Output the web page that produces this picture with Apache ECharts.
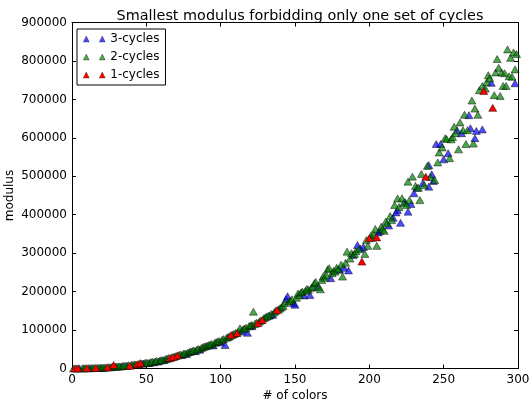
<!DOCTYPE html>
<html>
<head>
<meta charset="utf-8">
<script src="https://cdn.jsdelivr.net/npm/echarts@6/dist/echarts.min.js"></script>
<style>
html,body{margin:0;padding:0;background:#fff;}
#chart{width:531px;height:400px;}
</style>
</head>
<body>
<div id="chart"></div>
<script>
const titleText = "Smallest modulus forbidding only one set of cycles";
const xName = "# of colors";
const yName = "modulus";
const seriesNames = ["3-cycles", "2-cycles", "1-cycles"];
const xTicks = [0, 50, 100, 150, 200, 250, 300];
const yTicks = [0, 100000, 200000, 300000, 400000, 500000, 600000, 700000, 800000, 900000];

// [# of colors, modulus]
const threeCycles = [
[5,400],[12,900],[19,1800],[33,5500],[37,7000],[48,13000],[52,14500],[55,16000],[58,18000],[62,22000],
[74,35000],[77,38000],[83,45000],[86,49000],[95,60000],[100,68000],[103,61000],[114,97000],[118,93000],[121,110000],
[133,138000],[135,140000],[144,180000],[145,188000],[149,170000],[150,166000],[156,190000],[160,191000],[165,214000],[174,235000],
[180,257000],[183,262000],[186,255000],[189,295000],[192,321000],[194,312000],[196,316000],[206,354000],[207,358000],[213,372000],
[216,392000],[218,406000],[219,412000],[221,379000],[224,433000],[226,408000],[228,428000],[230,456000],[232,470000],[236,482000],
[240,473000],[240,529000],[242,505000],[243,488000],[245,584000],[248,584000],[250,544000],[253,560000],[259,620000],[262,612000],
[267,659000],[268,625000],[271,599000],[272,618000],[276,622000],[282,743000],[298,742000]
];
const twoCycles = [
[1,200],[3,300],[7,600],[8,500],[9,700],[11,900],[13,1100],[14,1300],[15,1200],[17,1800],
[18,1500],[20,2300],[21,2100],[22,2800],[23,2600],[25,3500],[26,3300],[27,4200],[29,4800],[30,4600],
[31,5800],[32,5200],[34,6600],[35,7200],[36,6800],[38,8400],[40,9500],[41,9000],[42,10800],[43,10200],
[45,12000],[47,12800],[49,14200],[50,15000],[51,14300],[53,16800],[54,17500],[56,18600],[57,19500],[59,20500],
[60,21800],[61,21500],[63,24800],[64,25500],[65,27000],[67,29000],[69,31000],[70,32500],[72,35000],[73,36500],
[75,38500],[76,39000],[78,41500],[79,43000],[80,44500],[81,45500],[82,47000],[84,49500],[85,51000],[87,53500],
[88,55500],[89,57000],[90,58000],[91,59500],[92,61000],[93,62500],[94,64000],[96,67000],[97,68500],[98,70000],
[99,71500],[101,75000],[102,76500],[104,80000],[105,82000],[106,83500],[108,88000],[109,90000],[110,92500],[112,96000],
[113,104600],[115,102000],[116,104000],[117,106000],[119,110000],[120,112000],[121,113000],[122,147800],[123,116000],[124,119000],
[126,122000],[127,125000],[129,131000],[130,133000],[131,135000],[132,137000],[134,142000],[136,146000],[137,150000],[139,154000],
[140,157000],[141,160000],[142,163000],[143,170000],[146,174000],[147,176000],[148,180000],[151,184000],[152,195000],[153,191000],
[154,198000],[155,200000],[157,202000],[158,207000],[159,205000],[161,210000],[162,212000],[163,222000],[164,225000],[166,212000],
[167,206000],[168,230000],[169,240000],[170,236000],[171,243000],[172,258000],[173,261000],[175,248000],[176,254000],[177,252000],
[178,262000],[179,258000],[181,270000],[182,239000],[184,275000],[185,304000],[187,286000],[188,300000],[190,298000],[191,305000],
[193,310000],[197,298000],[198,334000],[199,319000],[201,345000],[202,340000],[203,349000],[204,363000],[205,319000],[208,369000],
[209,362000],[210,358000],[211,382000],[212,378000],[214,397000],[215,386000],[217,425000],[219,442000],[220,420000],[222,443000],
[223,430000],[225,425000],[226,486000],[227,438000],[229,499000],[231,475000],[233,470000],[234,438000],[235,506000],[237,477000],
[239,527000],[241,498000],[244,490000],[246,536000],[247,562000],[249,575000],[251,599000],[252,597000],[254,547000],[255,596000],
[256,602000],[257,629000],[258,612000],[260,570000],[261,640000],[263,620000],[264,660000],[265,584000],[266,620000],[269,697000],
[270,585000],[271,676000],[273,660000],[274,724000],[276,735000],[278,728000],[279,745000],[280,763000],[281,755000],[284,711000],
[285,770000],[286,805000],[287,782000],[288,709000],[289,770000],[290,735000],[291,768000],[292,735000],[293,830000],[294,760000],
[295,808000],[296,759000],[297,822000],[298,778000],[299,818000]
];
const oneCycles = [
[2,300],[4,500],[10,800],[16,1500],[24,3000],[28,9000],[39,7000],[44,11000],[46,14000],[66,27000],
[68,30000],[71,34000],[107,87000],[111,92000],[125,118000],[128,126000],[138,152000],[195,278000],[200,339000],[205,341000],
[238,499000],[277,722000],[283,678000]
];

const FONT = "DejaVu Sans";
const chart = echarts.init(document.getElementById('chart'), null, {renderer:'canvas'});
const iconPath = 'path://M0,6L3,0L6,6Z M16,6L19,0L22,6Z';
const mk = (name, data, color) => ({
  name, type:'scatter', data, xAxisIndex:0, yAxisIndex:0,
  symbol:'triangle', symbolSize:[8,7],
  itemStyle:{color, borderColor:'rgba(0,0,0,0.75)', borderWidth:0.6, opacity:1},
  emphasis:{disabled:true}, animation:false
});
const tickCommon = {inside:true, length:4, lineStyle:{color:'#000', width:1}};
const lineCommon = {show:true, onZero:false, lineStyle:{color:'#000', width:1}};
chart.setOption({
  animation:false,
  backgroundColor:'#fff',
  title:{text:titleText, left:295, top:4, textAlign:'center',
    textStyle:{fontFamily:FONT, fontSize:14.4, fontWeight:'normal', color:'#000'}},
  grid:{left:72, right:13, top:22.5, bottom:31.5, containLabel:false, outerBoundsMode:'none'},
  legend:{
    orient:'vertical', left:77, top:29, padding:[4,6,4,6],
    itemWidth:22, itemHeight:6, itemGap:6,
    backgroundColor:'#fff', borderColor:'#000', borderWidth:1, borderRadius:0,
    icon:iconPath,
    itemStyle:{borderWidth:0.5, borderColor:'rgba(0,0,0,0.6)'},
    textStyle:{fontFamily:FONT, fontSize:12, color:'#000', lineHeight:12},
    data:seriesNames
  },
  xAxis:[
    {type:'value', position:'bottom', min:xTicks[0], max:xTicks[xTicks.length-1], interval:50,
     name:xName, nameLocation:'middle', nameGap:21, nameMoveOverlap:false,
     nameTextStyle:{fontFamily:FONT, fontSize:12, color:'#000'},
     axisLine:lineCommon, axisTick:tickCommon,
     axisLabel:{fontFamily:FONT, fontSize:12, color:'#000', margin:5, formatter:v=>String(v)},
     splitLine:{show:false}},
    {type:'value', position:'top', min:xTicks[0], max:xTicks[xTicks.length-1], interval:50,
     axisLine:lineCommon, axisTick:tickCommon, axisLabel:{show:false}, splitLine:{show:false}}
  ],
  yAxis:[
    {type:'value', position:'left', min:yTicks[0], max:yTicks[yTicks.length-1], interval:100000,
     name:yName, nameLocation:'middle', nameGap:56, nameMoveOverlap:false,
     nameTextStyle:{fontFamily:FONT, fontSize:12, color:'#000'},
     axisLine:lineCommon, axisTick:tickCommon,
     axisLabel:{fontFamily:FONT, fontSize:12, color:'#000', margin:5, formatter:v=>String(v)},
     splitLine:{show:false}},
    {type:'value', position:'right', min:yTicks[0], max:yTicks[yTicks.length-1], interval:100000,
     axisLine:lineCommon, axisTick:tickCommon, axisLabel:{show:false}, splitLine:{show:false}}
  ],
  series:[
    mk(seriesNames[0], threeCycles, 'rgba(0,0,255,0.7)'),
    mk(seriesNames[1], twoCycles, 'rgba(0,128,0,0.7)'),
    mk(seriesNames[2], oneCycles, '#ff0000')
  ]
});
</script>
</body>
</html>
